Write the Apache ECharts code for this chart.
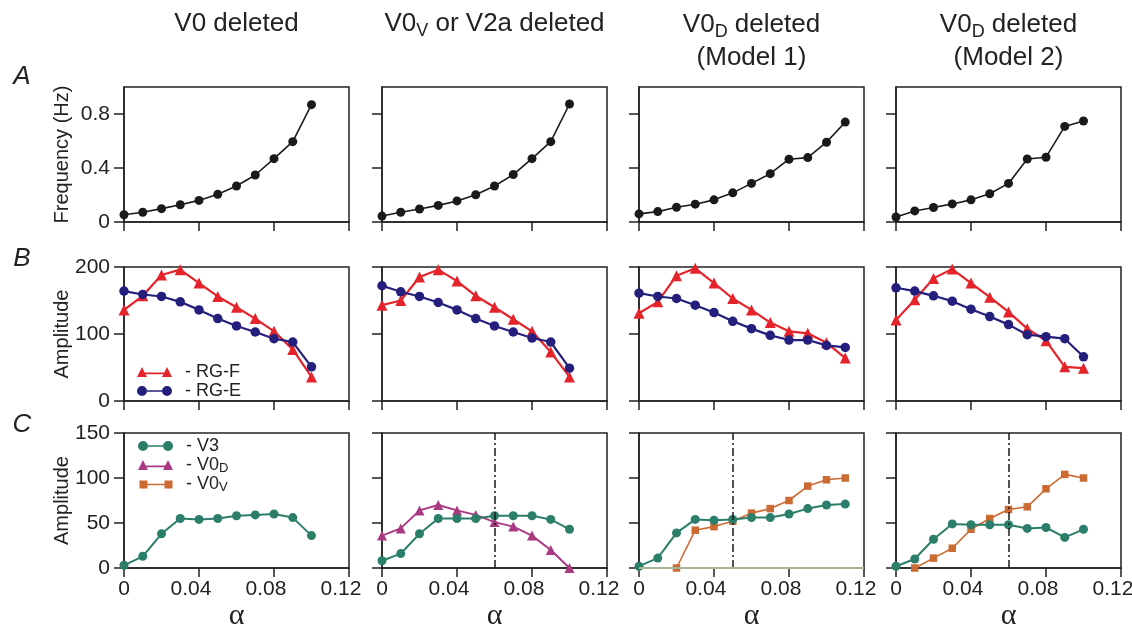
<!DOCTYPE html>
<html><head><meta charset="utf-8">
<script src="https://cdn.jsdelivr.net/npm/echarts@6/dist/echarts.min.js"></script>
<style>html,body{margin:0;padding:0;background:#fff}#c{width:1132px;height:625px}</style>
</head><body><div id="c"></div>
<script>
// ---------- data ----------
const alpha11 = [0, 0.01, 0.02, 0.03, 0.04, 0.05, 0.06, 0.07, 0.08, 0.09, 0.10];
const alpha12 = [0, 0.01, 0.02, 0.03, 0.04, 0.05, 0.06, 0.07, 0.08, 0.09, 0.10, 0.11];
const xTicks = [0, 0.04, 0.08, 0.12];
const freqTicks = [0, 0.4, 0.8];

const columnTitles = ['V0 deleted', 'V0{s|V} or V2a deleted', 'V0{s|D} deleted\n(Model 1)', 'V0{s|D} deleted\n(Model 2)'];
const panelLetters = ['A', 'B', 'C'];

// Row A: frequency (Hz)
const freqV0  = [0.054, 0.072, 0.099, 0.128, 0.160, 0.205, 0.267, 0.348, 0.469, 0.595, 0.869];
const freqV0V = [0.044, 0.072, 0.096, 0.123, 0.156, 0.202, 0.267, 0.351, 0.469, 0.595, 0.874];
const freqM1  = [0.060, 0.077, 0.109, 0.132, 0.164, 0.216, 0.286, 0.358, 0.465, 0.477, 0.591, 0.740];
const freqM2  = [0.037, 0.082, 0.107, 0.134, 0.164, 0.209, 0.286, 0.467, 0.480, 0.708, 0.748];

// Row B: RG-F / RG-E amplitude
const rgfV0  = [136, 157, 188, 196, 176, 156, 140, 123, 104, 77, 36];
const rgeV0  = [164, 159, 156, 148, 136, 123, 112, 103, 93, 88, 51];
const rgfV0V = [143, 150, 185, 196, 179, 157, 140, 122, 104, 73, 36];
const rgeV0V = [172, 163, 156, 147, 136, 123, 112, 103, 94, 88, 49];
const rgfM1  = [131, 148, 187, 198, 176, 153, 136, 117, 104, 101, 87, 64];
const rgeM1  = [161, 156, 153, 143, 132, 119, 108, 98, 91, 91, 83, 80];
const rgfM2  = [121, 151, 183, 197, 176, 155, 133, 108, 90, 51, 49];
const rgeM2  = [169, 164, 157, 149, 137, 126, 114, 99, 96, 93, 66];

// Row C: V3 / V0D / V0V amplitude
const v3V0   = [3, 13, 38, 55, 54, 55, 58, 59, 60, 56, 36];
const v3V0V  = [8, 16, 38, 55, 55, 55, 58, 58, 58, 54, 43];
const v0dV0V = [36, 44, 64, 70, 64, 59, 51, 46, 36, 20, 0];
const v3M1   = [2, 11, 39, 54, 53, 54, 56, 56, 60, 66, 70, 71];
const v0vM1  = [null, null, 0, 42, 46, 52, 61, 66, 75, 91, 98, 100];
const v3M2   = [2, 10, 32, 49, 48, 48, 48, 44, 45, 34, 43];
const v0vM2  = [null, 0, 11, 22, 43, 55, 65, 68, 88, 104, 100];

// dash-dot reference lines (alpha)
const dashAlpha = [null, 0.059, 0.051, 0.061];

// ---------- style ----------
const RED = '#e5232a', BLUE = '#241f7c', TEAL = '#2b7e69', MAG = '#a93a82', ORG = '#cb6a32', BLK = '#1a1a1a', OLV = '#a5b497', INK = '#222';
const FONT = '"Liberation Sans", Arial, sans-serif';
const gridLeft = [124, 382, 639, 896];
const gridTop = [87, 267, 433];
const gridH = [135, 134, 135];
const gridW = 225;

const yCfg = [
  { min: 0, max: 1, interval: 0.4, name: 'Frequency (Hz)', custom: freqTicks },
  { min: 0, max: 200, interval: 100, name: 'Amplitude' },
  { min: 0, max: 150, interval: 50, name: 'Amplitude' }
];

function pairs(xs, ys) {
  return xs.map((x, i) => [x, ys[i]]).filter(p => p[1] !== null && p[1] !== undefined);
}

const grids = [], xAxes = [], yAxes = [];
for (let r = 0; r < 3; r++) {
  for (let c = 0; c < 4; c++) {
    grids.push({
      left: gridLeft[c], top: gridTop[r], width: gridW, height: gridH[r],
      show: true, borderColor: INK, borderWidth: 1.5, backgroundColor: 'transparent',
      containLabel: false, outerBoundsMode: 'none'
    });
    const gi = grids.length - 1;
    xAxes.push({
      type: 'value', gridIndex: gi, min: 0, max: 0.12, interval: 0.04,
      axisLine: { show: true, onZero: false, lineStyle: { color: INK, width: 1.5 } },
      axisTick: { show: true, inside: false, length: 9, lineStyle: { color: INK, width: 1.5 } },
      splitLine: { show: false },
      axisLabel: {
        show: r === 2, margin: 11, color: INK, fontSize: 21, fontFamily: FONT,
        formatter: v => v === 0 ? '0' : '{o|' + v.toFixed(2) + '}',
        rich: { o: { fontSize: 21, fontFamily: FONT, color: INK, padding: [0, 16, 0, 0] } }
      },
      name: r === 2 ? 'α' : '', nameLocation: 'middle', nameGap: 33, nameMoveOverlap: false,
      nameTextStyle: { fontFamily: '"Liberation Serif", "DejaVu Serif", serif', fontSize: 30, color: INK }
    });
    const yc = yCfg[r];
    const yAx = {
      type: 'value', gridIndex: gi, min: yc.min, max: yc.max, interval: yc.interval,
      axisLine: { show: true, onZero: false, lineStyle: { color: INK, width: 1.5 } },
      axisTick: { show: true, inside: false, length: 10, lineStyle: { color: INK, width: 1.5 } },
      splitLine: { show: false },
      axisLabel: { show: c === 0, margin: 14, color: INK, fontSize: 21, fontFamily: FONT },
      name: c === 0 ? yc.name : '', nameLocation: 'middle', nameGap: 52, nameMoveOverlap: false,
      nameTextStyle: { fontFamily: FONT, fontSize: 20, color: INK }
    };
    if (yc.custom) {
      yAx.axisTick.customValues = yc.custom;
      yAx.axisLabel.customValues = yc.custom;
    }
    yAxes.push(yAx);
  }
}

function line(name, gi, xs, ys, symbol, size, color, lw, extra) {
  return Object.assign({
    type: 'line', name, xAxisIndex: gi, yAxisIndex: gi,
    data: pairs(xs, ys), symbol, symbolSize: size, showSymbol: true,
    itemStyle: { color, borderWidth: 0 }, lineStyle: { color, width: lw },
    emphasis: { disabled: true }, silent: true, animation: false, z: 3
  }, extra || {});
}
function dashMark(gi, extraData) {
  const data = [{ xAxis: dashAlpha[gi % 4], lineStyle: { type: [8, 3, 2, 3], color: BLK, width: 1.5 } }];
  (extraData || []).forEach(d => data.push(d));
  return { markLine: { symbol: 'none', silent: true, label: { show: false }, emphasis: { disabled: true }, data } };
}

const freqSets = [[alpha11, freqV0], [alpha11, freqV0V], [alpha12, freqM1], [alpha11, freqM2]];
const rgSets = [[alpha11, rgfV0, rgeV0], [alpha11, rgfV0V, rgeV0V], [alpha12, rgfM1, rgeM1], [alpha11, rgfM2, rgeM2]];

const series = [];
freqSets.forEach((s, c) => series.push(line('Frequency', c, s[0], s[1], 'circle', 9, BLK, 1.6)));
rgSets.forEach((s, c) => {
  series.push(line('RG-F', 4 + c, s[0], s[1], 'triangle', 11, RED, 2.2));
  series.push(line('RG-E', 4 + c, s[0], s[2], 'circle', 9.5, BLUE, 2.2));
});
series.push(line('V3', 8, alpha11, v3V0, 'circle', 9, TEAL, 2));
series.push(line('V0D', 9, alpha11, v0dV0V, 'triangle', 10, MAG, 2));
series.push(line('V3', 9, alpha11, v3V0V, 'circle', 9, TEAL, 2, dashMark(9)));
series.push(line('V0V', 10, alpha12, v0vM1, 'rect', 7.5, ORG, 1.6,
  dashMark(10, [{ yAxis: 0, lineStyle: { type: 'solid', color: OLV, width: 2 } }])));
series.push(line('V3', 10, alpha12, v3M1, 'circle', 9, TEAL, 2));
series.push(line('V0V', 11, alpha11, v0vM2, 'rect', 7.5, ORG, 1.6));
series.push(line('V3', 11, alpha11, v3M2, 'circle', 9, TEAL, 2, dashMark(11)));

// legend icons (marker - line - marker)
const ICON_TRI = 'path://M0,10L5,0L10,10Z M8,5.6H27V7.2H8Z M25,10L30,0L35,10Z';
const ICON_CIR = 'path://M0,5a5,5 0 1,0 10,0a5,5 0 1,0 -10,0Z M10,4.2H25V5.8H10Z M25,5a5,5 0 1,0 10,0a5,5 0 1,0 -10,0Z';
const ICON_SQR = 'path://M0,0L0,0Z M0,10L0,10Z M1,1H9V9H1Z M9,4.2H26V5.8H9Z M26,1H34V9H26Z';
const legendFmt = name => {
  if (name === 'V0D') return '{t|- V0}{s|D}';
  if (name === 'V0V') return '{t|- V0}{s|V}';
  return '{t|- ' + name + '}';
};
const legendText = {
  color: INK, fontSize: 18, fontFamily: FONT,
  rich: {
    t: { fontSize: 18, fontFamily: FONT, color: INK, lineHeight: 19, padding: [0, 0, 0, 8] },
    s: { fontSize: 13, fontFamily: FONT, color: INK, lineHeight: 12, verticalAlign: 'bottom' }
  }
};
const legendBase = {
  orient: 'vertical', itemWidth: 35, itemHeight: 10, itemGap: 1, selectedMode: false,
  padding: 0, formatter: legendFmt, textStyle: legendText, itemStyle: { borderWidth: 0 }
};

const titleRich = { s: { fontSize: 18, fontFamily: FONT, fill: INK, lineHeight: 16, verticalAlign: 'bottom' } };
const graphic = [];
const titleY = [23.6, 23.6, 41.5, 41.5];
columnTitles.forEach((t, c) => {
  graphic.push({
    type: 'text', x: gridLeft[c] + gridW / 2, y: titleY[c], silent: true,
    style: { text: t, fontSize: 26, fontFamily: FONT, fill: INK, align: 'center', verticalAlign: 'middle', lineHeight: 33, rich: titleRich }
  });
});
const letterY = [77, 259, 425];
panelLetters.forEach((l, r) => {
  graphic.push({
    type: 'text', x: 22, y: letterY[r], silent: true,
    style: { text: l, fontSize: 26, fontStyle: 'italic', fontFamily: FONT, fill: INK, align: 'center', verticalAlign: 'middle' }
  });
});

const chart = echarts.init(document.getElementById('c'), null, { renderer: 'canvas' });
chart.setOption({
  animation: false,
  backgroundColor: '#fff',
  textStyle: { fontFamily: FONT },
  grid: grids, xAxis: xAxes, yAxis: yAxes, series,
  legend: [
    Object.assign({}, legendBase, { left: 137, top: 363, data: [{ name: 'RG-F', icon: ICON_TRI }, { name: 'RG-E', icon: ICON_CIR }] }),
    Object.assign({}, legendBase, { left: 138, top: 437, data: [{ name: 'V3', icon: ICON_CIR }, { name: 'V0D', icon: ICON_TRI }, { name: 'V0V', icon: ICON_SQR }] })
  ],
  graphic
});
</script></body></html>
